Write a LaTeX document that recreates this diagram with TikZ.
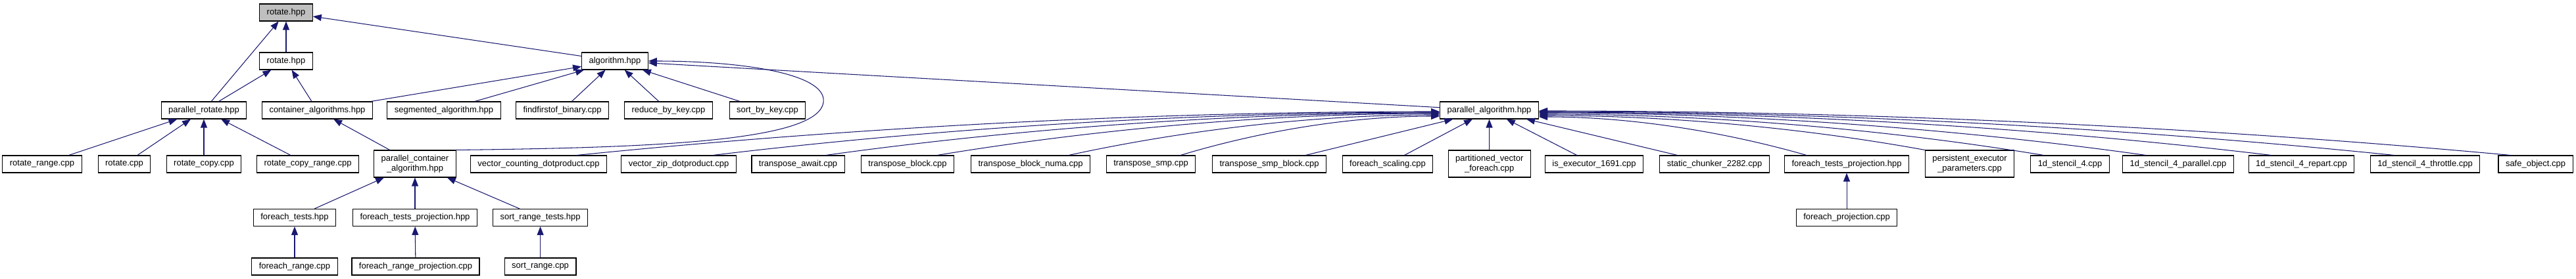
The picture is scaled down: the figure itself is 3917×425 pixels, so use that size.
\documentclass[tikz,border=0pt]{standalone}
\usepackage{fontspec}
\setmainfont{Liberation Sans}
\usetikzlibrary{arrows.meta,calc}
\definecolor{edgeblue}{HTML}{191970}
\definecolor{topgray}{HTML}{BFBFBF}

\begin{document}
\begin{tikzpicture}[x=0.02cm, y=-0.02cm, >={Triangle[length=0.26cm,width=0.2cm]},
    file/.style={draw=black, line width=0.6pt, fill=white, inner xsep=0.22cm, inner ysep=0pt,
        minimum height=0.52cm, align=center, font=\fontsize{7.4}{8.5}\selectfont},
    twoline/.style={file, minimum height=0.82cm},
    edge/.style={->, draw=edgeblue, line width=0.6pt}]
    \useasboundingbox (0,0) rectangle (3917,425);

    \node[file, fill=topgray] (top) at (435,19) {rotate.hpp};
    \node[file] (rot2) at (435,93) {rotate.hpp};
    \node[file] (algo) at (935,93) {algorithm.hpp};

    \foreach \n/\x/\t in {prot/310/parallel\_rotate.hpp, cont/482.5/container\_algorithms.hpp,
        segm/675/segmented\_algorithm.hpp, ffob/855/findfirstof\_binary.cpp,
        rbk/1016.5/reduce\_by\_key.cpp, sbk/1167/sort\_by\_key.cpp, palg/2264.5/parallel\_algorithm.hpp}
        \node[file] (\n) at (\x,168) {\t};

    \foreach \n/\x/\t in {rrng/64/rotate\_range.cpp, rcpp/189/rotate.cpp, rcpy/310/rotate\_copy.cpp,
        rcpr/468/rotate\_copy\_range.cpp, vcd/819/vector\_counting\_dotproduct.cpp,
        vzd/1032/vector\_zip\_dotproduct.cpp, tawait/1213.6/transpose\_await.cpp,
        tblock/1380/transpose\_block.cpp, tnuma/1567/transpose\_block\_numa.cpp,
        tsmp/1750/transpose\_smp.cpp, tsmpb/1930/transpose\_smp\_block.cpp,
        fscal/2110/foreach\_scaling.cpp, isex/2424/is\_executor\_1691.cpp,
        stch/2607/static\_chunker\_2282.cpp, ftpb/2808/foreach\_tests\_projection.hpp,
        st4/3147.5/1d\_stencil\_4.cpp, st4p/3312/1d\_stencil\_4\_parallel.cpp,
        st4r/3499.5/1d\_stencil\_4\_repart.cpp, st4t/3687.5/1d\_stencil\_4\_throttle.cpp,
        safe/3855.5/safe\_object.cpp}
        \node[file] (\n) at (\x,250) {\t};

    \node[twoline] (pcalg) at (631,249.5) {parallel\_container\\\_algorithm.hpp};
    \node[twoline] (pvf) at (2264.7,249.5) {partitioned\_vector\\\_foreach.cpp};
    \node[twoline] (pexp) at (2995,249.5) {persistent\_executor\\\_parameters.cpp};

    \foreach \n/\x/\t in {ftst/448/foreach\_tests.hpp, ftpa/631/foreach\_tests\_projection.hpp,
        srt/821.6/sort\_range\_tests.hpp, fproj/2808/foreach\_projection.cpp}
        \node[file] (\n) at (\x,331.5) {\t};

    \foreach \n/\x/\t in {frng/448/foreach\_range.cpp, frp/632/foreach\_range\_projection.cpp,
        srng/821.6/sort\_range.cpp}
        \node[file] (\n) at (\x,406) {\t};

    \foreach \a/\b in {rot2/top, prot/top, algo/top, prot/rot2, cont/rot2, rrng/prot, rcpp/prot,
        rcpy/prot, rcpr/prot, pcalg/cont, cont/algo, segm/algo, ffob/algo, rbk/algo, sbk/algo,
        palg/algo, ftst/pcalg, ftpa/pcalg, srt/pcalg, frng/ftst, frp/ftpa, srng/srt, fproj/ftpb,
        tsmpb/palg, fscal/palg, pvf/palg, isex/palg, stch/palg}
        \draw[edge] (\a) -- (\b);

    \draw[edge] (pcalg.north east) .. controls (1000,225) and (1260,215) .. (1252,150)
        .. controls (1246,110) and (1120,93) .. (algo.east);

    \foreach \s/\dx/\dy/\ax/\ay/\bx in {vcd/58/2/394/-40/-460, vzd/52/3/332/-40/-387,
        tawait/42/4/280/-39/-327, tblock/45/5/230/-38/-268, tnuma/58/7/170/-37/-198,
        tsmp/45/9/119/-36/-138}
        \draw[edge] ($(\s.north)+(\dx,0)$) .. controls +(\ax,\ay) and +(\bx,0) .. ($(palg.west)+(0,\dy)$);

    \foreach \s/\dx/\dy/\ax/\ay/\bx in {ftpb/-61/10/-122/-35/143, pexp/-68/8/-176/-32/206,
        st4/-40/6/-230/-38/269, st4p/-49/4/-277/-39/323, st4r/-46/3/-334/-40/390,
        st4t/-47/2/-390/-40/455, safe/-38/1/-443/-41/517}
        \draw[edge] ($(\s.north)+(\dx,0)$) .. controls +(\ax,\ay) and +(\bx,0) .. ($(palg.east)+(0,\dy)$);
\end{tikzpicture}
\end{document}
